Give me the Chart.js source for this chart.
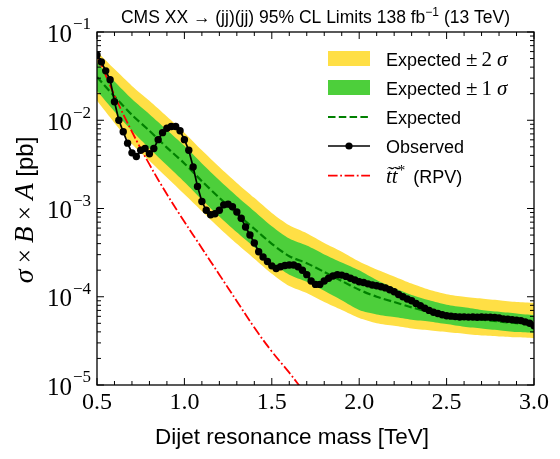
<!DOCTYPE html>
<html>
<head>
<meta charset="utf-8">
<script src="https://cdn.jsdelivr.net/npm/chart.js@4.4.0/dist/chart.umd.min.js"></script>
<style>
  html, body { margin: 0; padding: 0; background: #fff; }
  #wrap { position: relative; width: 560px; height: 459px; }
</style>
</head>
<body>
<div id="wrap"><canvas id="limits" width="560" height="459"></canvas></div>
<script>
(function () {
  "use strict";

  // expected limit and bands (pb)
  var bandMass = [0.5, 0.6, 0.7, 0.8, 0.9, 1.0, 1.1, 1.2, 1.3, 1.4, 1.5, 1.6, 1.7, 1.8, 1.9,
    2.0, 2.1, 2.2, 2.3, 2.4, 2.5, 2.6, 2.7, 2.8, 2.9, 3.0];
  var expVal = [3.09e-2, 1.86e-2, 1.15e-2, 7.59e-3, 4.90e-3, 3.24e-3, 2.04e-3, 1.32e-3, 8.71e-4, 5.89e-4,
    3.98e-4, 2.88e-4, 2.40e-4, 1.91e-4, 1.51e-4, 1.20e-4, 1.00e-4, 8.71e-5, 7.59e-5, 6.76e-5,
    6.17e-5, 5.75e-5, 5.50e-5, 5.25e-5, 5.01e-5, 4.90e-5];
  var up2Val = [6.03e-2, 3.80e-2, 2.45e-2, 1.66e-2, 1.10e-2, 7.24e-3, 4.57e-3, 2.95e-3, 1.95e-3, 1.32e-3,
    8.91e-4, 6.46e-4, 5.25e-4, 4.07e-4, 3.24e-4, 2.51e-4, 2.04e-4, 1.70e-4, 1.41e-4, 1.20e-4,
    1.07e-4, 1.00e-4, 9.55e-5, 9.12e-5, 8.71e-5, 8.51e-5];
  var up1Val = [4.47e-2, 2.75e-2, 1.74e-2, 1.17e-2, 7.76e-3, 5.13e-3, 3.24e-3, 2.09e-3, 1.38e-3, 9.33e-4,
    6.31e-4, 4.57e-4, 3.80e-4, 3.02e-4, 2.45e-4, 2.00e-4, 1.55e-4, 1.26e-4, 1.05e-4, 9.12e-5,
    8.13e-5, 7.59e-5, 7.08e-5, 6.76e-5, 6.46e-5, 6.17e-5];
  var dn1Val = [2.14e-2, 1.26e-2, 7.59e-3, 4.79e-3, 3.09e-3, 2.00e-3, 1.26e-3, 8.13e-4, 5.37e-4, 3.63e-4,
    2.45e-4, 1.78e-4, 1.48e-4, 1.17e-4, 9.12e-5, 7.08e-5, 6.31e-5, 5.89e-5, 5.50e-5, 5.25e-5,
    4.90e-5, 4.57e-5, 4.37e-5, 4.17e-5, 3.98e-5, 3.89e-5];
  var dn2Val = [1.66e-2, 9.33e-3, 5.37e-3, 3.47e-3, 2.24e-3, 1.45e-3, 9.33e-4, 6.03e-4, 3.98e-4, 2.69e-4,
    1.82e-4, 1.32e-4, 1.10e-4, 8.71e-5, 7.08e-5, 5.75e-5, 5.01e-5, 4.68e-5, 4.37e-5, 4.17e-5,
    3.98e-5, 3.80e-5, 3.63e-5, 3.55e-5, 3.47e-5, 3.39e-5];

  // observed limit
  var obsMass = [0.500, 0.525, 0.550, 0.575, 0.600, 0.625, 0.650, 0.675, 0.700, 0.725,
    0.750, 0.775, 0.800, 0.825, 0.850, 0.875, 0.900, 0.925, 0.950, 0.975,
    1.000, 1.025, 1.050, 1.075, 1.100, 1.125, 1.150, 1.175, 1.200, 1.225,
    1.250, 1.275, 1.300, 1.325, 1.350, 1.375, 1.400, 1.425, 1.450, 1.475,
    1.500, 1.525, 1.550, 1.575, 1.600, 1.625, 1.650, 1.675, 1.700, 1.725,
    1.750, 1.775, 1.800, 1.825, 1.850, 1.875, 1.900, 1.925, 1.950, 1.975,
    2.000, 2.025, 2.050, 2.075, 2.100, 2.125, 2.150, 2.175, 2.200, 2.225,
    2.250, 2.275, 2.300, 2.325, 2.350, 2.375, 2.400, 2.425, 2.450, 2.475,
    2.500, 2.525, 2.550, 2.575, 2.600, 2.625, 2.650, 2.675, 2.700, 2.725,
    2.750, 2.775, 2.800, 2.825, 2.850, 2.875, 2.900, 2.925, 2.950, 2.975, 3.000];
  var obsVal = [5.50e-2, 4.57e-2, 3.63e-2, 2.88e-2, 1.62e-2, 1.00e-2, 7.41e-3, 5.50e-3, 4.27e-3, 3.89e-3,
    4.57e-3, 4.79e-3, 4.17e-3, 4.79e-3, 6.03e-3, 7.24e-3, 8.13e-3, 8.51e-3, 8.51e-3, 7.59e-3,
    6.03e-3, 4.57e-3, 2.95e-3, 1.78e-3, 1.20e-3, 9.55e-4, 8.51e-4, 8.71e-4, 9.55e-4, 1.10e-3,
    1.12e-3, 1.05e-3, 9.12e-4, 7.76e-4, 6.17e-4, 5.01e-4, 4.07e-4, 3.24e-4, 2.82e-4, 2.51e-4,
    2.24e-4, 2.09e-4, 2.19e-4, 2.26e-4, 2.29e-4, 2.29e-4, 2.19e-4, 2.00e-4, 1.78e-4, 1.51e-4,
    1.38e-4, 1.38e-4, 1.51e-4, 1.62e-4, 1.72e-4, 1.78e-4, 1.76e-4, 1.70e-4, 1.62e-4, 1.55e-4,
    1.48e-4, 1.45e-4, 1.40e-4, 1.36e-4, 1.33e-4, 1.30e-4, 1.26e-4, 1.20e-4, 1.14e-4, 1.06e-4,
    1.00e-4, 9.44e-5, 9.02e-5, 8.41e-5, 7.94e-5, 7.41e-5, 7.00e-5, 6.68e-5, 6.46e-5, 6.24e-5,
    6.10e-5, 6.03e-5, 5.96e-5, 5.89e-5, 5.92e-5, 5.88e-5, 5.90e-5, 5.86e-5, 5.89e-5, 5.87e-5,
    5.86e-5, 5.82e-5, 5.75e-5, 5.62e-5, 5.56e-5, 5.50e-5, 5.43e-5, 5.37e-5, 5.19e-5, 5.01e-5, 4.68e-5];

  // stop pair (RPV) cross section
  var rpvMass = [0.5, 0.6, 0.7, 0.8, 0.9, 1.0, 1.1, 1.2, 1.3, 1.4, 1.5, 1.6, 1.7];
  var rpvVal = [5.62e-2, 1.91e-2, 7.41e-3, 3.16e-3, 1.45e-3, 7.08e-4, 3.55e-4, 1.78e-4, 8.91e-5, 4.47e-5,
    2.40e-5, 1.38e-5, 7.59e-6];

  // ticks
  var xMajor = [0.5, 1.0, 1.5, 2.0, 2.5, 3.0];
  var xMajorLabels = ["0.5", "1.0", "1.5", "2.0", "2.5", "3.0"];
  var xMinor = [0.6, 0.7, 0.8, 0.9, 1.1, 1.2, 1.3, 1.4, 1.6, 1.7, 1.8, 1.9,
    2.1, 2.2, 2.3, 2.4, 2.6, 2.7, 2.8, 2.9];
  var yMajor = [1e-5, 1e-4, 1e-3, 1e-2, 1e-1];
  var yMajorExp = ["\u22125", "\u22124", "\u22123", "\u22122", "\u22121"];
  var yMinorMult = [2, 3, 4, 5, 6, 7, 8, 9];

  var YELLOW = "#ffdf45", GREEN = "#4dcf3b", DGREEN = "#008000";
  var SERIF = "'Liberation Serif', 'DejaVu Serif', serif";
  var SANS = "'Liberation Sans', 'DejaVu Sans', sans-serif";

  function pts(xs, ys) {
    return xs.map(function (x, i) { return { x: x, y: ys[i] }; });
  }

  function band(vals, color, fill) {
    return { data: pts(bandMass, vals), borderWidth: 0, pointRadius: 0, tension: 0.25,
      backgroundColor: color, fill: fill };
  }

  // draw a run of mixed-font pieces starting at x
  function runText(ctx, pieces, x, y) {
    pieces.forEach(function (p) {
      ctx.font = p.f;
      ctx.fillText(p.t, x + (p.dx || 0), y + (p.dy || 0));
      x += ctx.measureText(p.t).width + (p.dx || 0);
    });
    return x;
  }
  function runWidth(ctx, pieces) {
    return pieces.reduce(function (w, p) { ctx.font = p.f; return w + ctx.measureText(p.t).width + (p.dx || 0); }, 0);
  }

  var decor = {
    id: "decor",
    afterDatasetsDraw: function (chart) {
      var ctx = chart.ctx, a = chart.chartArea, xs = chart.scales.x, ys = chart.scales.y;
      ctx.save();
      ctx.strokeStyle = "#000";
      ctx.fillStyle = "#000";

      function seg(x1, y1, x2, y2) { ctx.beginPath(); ctx.moveTo(x1, y1); ctx.lineTo(x2, y2); ctx.stroke(); }
      function xt(v, len) {
        var p = xs.getPixelForValue(v);
        seg(p, a.bottom, p, a.bottom - len); seg(p, a.top, p, a.top + len);
      }
      function yt(v, len) {
        var p = ys.getPixelForValue(v);
        seg(a.left, p, a.left + len, p); seg(a.right, p, a.right - len, p);
      }
      ctx.lineWidth = 1;
      xMajor.forEach(function (v) { xt(v, 7); });
      xMinor.forEach(function (v) { xt(v, 4); });
      yMajor.forEach(function (v, i) {
        yt(v, 7);
        if (i < yMajor.length - 1) yMinorMult.forEach(function (m) { yt(v * m, 4); });
      });
      ctx.lineWidth = 1.3;
      ctx.strokeRect(a.left, a.top, a.right - a.left, a.bottom - a.top);

      // tick labels
      ctx.textBaseline = "middle";
      ctx.textAlign = "center";
      ctx.font = "24px " + SERIF;
      xMajor.forEach(function (v, i) { ctx.fillText(xMajorLabels[i], xs.getPixelForValue(v), a.bottom + 18); });
      ctx.textAlign = "right";
      yMajor.forEach(function (v, i) {
        var p = ys.getPixelForValue(v), r = a.left - 6;
        ctx.font = "17px " + SERIF;
        ctx.fillText(yMajorExp[i], r, p - 7);
        var ew = ctx.measureText(yMajorExp[i]).width;
        ctx.font = "25px " + SERIF;
        ctx.fillText("10", r - ew - 1, p + 3);
      });

      // title
      ctx.textBaseline = "alphabetic";
      ctx.textAlign = "left";
      var title = [
        { t: "CMS XX \u2192 (jj)(jj) 95% CL Limits 138 fb", f: "17.5px " + SANS },
        { t: "\u22121", f: "12px " + SANS, dy: -7 },
        { t: " (13 TeV)", f: "17.5px " + SANS }
      ];
      runText(ctx, title, (a.left + a.right) / 2 - runWidth(ctx, title) / 2, 23);

      // x axis title
      ctx.font = "22.5px " + SANS;
      ctx.textAlign = "center";
      ctx.fillText("Dijet resonance mass [TeV]", 292, 444);

      // y axis title
      ctx.textAlign = "left";
      var yt2 = [
        { t: "\u03c3", f: "italic 28px " + SERIF },
        { t: " \u00d7 ", f: "25px " + SERIF },
        { t: "B", f: "italic 27px " + SERIF },
        { t: " \u00d7 ", f: "25px " + SERIF },
        { t: "A", f: "italic 27px " + SERIF },
        { t: " [pb]", f: "24px " + SANS }
      ];
      ctx.save();
      ctx.translate(33, 210);
      ctx.rotate(-Math.PI / 2);
      runText(ctx, yt2, -runWidth(ctx, yt2) / 2, 0);
      ctx.restore();

      // legend
      var lx = 328, lw = 42, tx = 386;
      var rows = [58.5, 87.5, 117, 146, 175.7];
      ctx.fillStyle = YELLOW; ctx.fillRect(lx, rows[0] - 7.5, lw, 15);
      ctx.fillStyle = GREEN; ctx.fillRect(lx, rows[1] - 7.5, lw, 15);
      ctx.lineWidth = 2.2; ctx.strokeStyle = DGREEN; ctx.setLineDash([7.5, 3.3]);
      seg(lx, rows[2], lx + lw, rows[2]);
      ctx.lineWidth = 1.7; ctx.strokeStyle = "#000"; ctx.setLineDash([]);
      seg(lx, rows[3], lx + lw, rows[3]);
      ctx.fillStyle = "#000";
      ctx.beginPath(); ctx.arc(lx + lw / 2, rows[3], 3.6, 0, Math.PI * 2); ctx.fill();
      ctx.lineWidth = 1.8; ctx.strokeStyle = "#ff0000"; ctx.setLineDash([9.6, 2.6, 1.8, 2.6]);
      seg(lx, rows[4], lx + lw, rows[4]);
      ctx.setLineDash([]);

      var lf = "18px " + SANS, mf = "21px " + SERIF, mi = "italic 21px " + SERIF;
      ctx.fillStyle = "#000";
      runText(ctx, [{ t: "Expected ", f: lf }, { t: "\u00b1", f: mf }, { t: "2", f: mf, dx: 4 }, { t: "\u03c3", f: mi, dx: 5 }], tx, rows[0] + 7);
      runText(ctx, [{ t: "Expected ", f: lf }, { t: "\u00b1", f: mf }, { t: "1", f: mf, dx: 4 }, { t: "\u03c3", f: mi, dx: 5 }], tx, rows[1] + 7);
      runText(ctx, [{ t: "Expected", f: lf }], tx, rows[2] + 7);
      runText(ctx, [{ t: "Observed", f: lf }], tx, rows[3] + 7);
      runText(ctx, [{ t: "t\u0303t\u0303", f: mi }, { t: "*", f: "15px " + SERIF, dy: -8 }, { t: " (RPV)", f: lf, dx: 3 }], tx, rows[4] + 7);

      ctx.restore();
    }
  };

  new Chart(document.getElementById("limits"), {
    type: "line",
    data: {
      datasets: [
        { label: "Observed", data: pts(obsMass, obsVal), borderColor: "#000", borderWidth: 1.7,
          pointRadius: 3.7, pointBackgroundColor: "#000", pointBorderWidth: 0, tension: 0, fill: false },
        { label: "RPV", data: pts(rpvMass, rpvVal), borderColor: "#ff0000", borderWidth: 1.8,
          borderDash: [9.6, 2.6, 1.8, 2.6], pointRadius: 0, tension: 0.4, fill: false },
        { label: "Expected", data: pts(bandMass, expVal), borderColor: DGREEN, borderWidth: 2.2,
          borderDash: [7.5, 3.3], pointRadius: 0, tension: 0.25, fill: false },
        band(up1Val, GREEN, "+1"),
        band(dn1Val, GREEN, false),
        band(up2Val, YELLOW, "+1"),
        band(dn2Val, YELLOW, false)
      ]
    },
    options: {
      responsive: false,
      animation: false,
      devicePixelRatio: 1,
      layout: { padding: { top: 32, right: 26, left: 0, bottom: 0 } },
      plugins: { legend: { display: false }, tooltip: { enabled: false }, title: { display: false } },
      scales: {
        x: { type: "linear", min: 0.5, max: 3.0, grid: { display: false }, border: { display: false },
          ticks: { display: false }, afterFit: function (s) { s.height = 74; } },
        y: { type: "logarithmic", min: 1e-5, max: 1e-1, grid: { display: false }, border: { display: false },
          ticks: { display: false }, afterFit: function (s) { s.width = 97; } }
      }
    },
    plugins: [decor]
  });
})();
</script>
</body>
</html>
